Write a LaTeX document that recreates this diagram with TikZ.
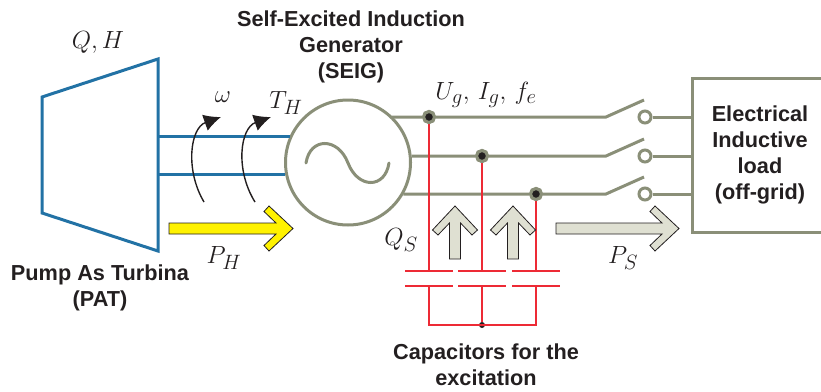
\documentclass[tikz,border=0pt]{standalone}
\usepackage{fontspec}
\setmainfont{Liberation Sans}
\usepackage{tikz}
\usetikzlibrary{arrows.meta, positioning, calc}
\definecolor{patblue}{HTML}{2272A5}
\definecolor{machine}{HTML}{8A8F78}
\definecolor{excite}{HTML}{ED2A35}
\definecolor{ink}{HTML}{231F20}
\definecolor{powerfill}{HTML}{DFE0D2}
\definecolor{hydrofill}{HTML}{FFF200}
\tikzset{
  title/.style    = {font=\fontsize{21.7}{26}\selectfont\bfseries, text=ink, align=center},
  qty/.style      = {font=\fontsize{24.88}{28}\selectfont, text=ink, inner sep=0pt},
  wire/.style     = {draw=machine, line width=3pt},
  shaft/.style    = {draw=patblue, line width=3pt},
  capwire/.style  = {draw=excite, line width=1.8pt},
  torque/.style   = {-{Latex[length=17pt, width=17pt]}, draw=ink, line width=1.4pt},
  busdot/.style   = {circle, draw=machine, fill=ink, line width=3pt, minimum size=11pt, inner sep=0pt},
  contact/.style  = {circle, draw=machine, fill=white, line width=3pt, minimum size=12pt, inner sep=0pt},
  fatpower/.style = {draw=ink, fill=powerfill, line width=0.8pt, line join=miter},
  fathydro/.style = {draw=ink, fill=hydrofill, line width=0.8pt, line join=miter},
  pics/fatarrow/.style = {code={
    \path[pic actions] (0,-5.5) -- (#1-17,-5.5) -- (#1-29,-17) -- (#1-24,-22.5) -- (#1,0)
      -- (#1-24,22.5) -- (#1-29,17) -- (#1-17,5.5) -- (0,5.5) -- cycle;
  }},
}
\begin{document}
\begin{tikzpicture}[x=1pt, y=-1pt]
  \useasboundingbox (0,0) rectangle (821,391);

  % turbine
  \draw[shaft, line join=miter] (42,97) -- (158,59) -- (158,251) -- (42,213) -- cycle;
  \coordinate (shafttop) at (158,136);
  \coordinate (shaftbot) at (158,174);

  % generator and load
  \node[circle, wire, minimum size=125pt, inner sep=0pt] (seig) at (348,162.5) {};
  \draw[wire, line cap=round] (306,163) .. controls (310,137) and (338,137) .. (348,163)
    .. controls (358,189) and (385,189) .. (389,163);
  \draw[wire] (821,78) -- (692,78) -- (692,232) -- (821,232);
  \coordinate (load) at (692,155);
  \draw[shaft] (shafttop) -- (shafttop -| seig.155);
  \draw[shaft] (shaftbot) -- (shaftbot -| seig.190);

  % three phases
  \node[busdot] (dota) at (429,117) {};
  \node[busdot] (dotb) at (482,156) {};
  \node[busdot] (dotc) at (536,194) {};
  \foreach \ph/\yy/\ang in {a/117/47, b/156/6, c/194/-30} {
    \coordinate (pivot\ph) at (606,\yy);
    \node[contact] (term\ph) at (645,\yy) {};
    \draw[wire] (seig.\ang |- dot\ph) -- (dot\ph) -- (pivot\ph) -- ++(38,-17);
    \draw[wire] (term\ph) -- (term\ph -| load);
  }

  % capacitor bank
  \foreach \ph/\xx in {a/429, b/482, c/536} {
    \coordinate (capup\ph) at (\xx,271);
    \coordinate (capdn\ph) at (\xx,286);
    \draw[capwire] (dot\ph) -- (capup\ph);
    \draw[capwire] ($(capup\ph)+(-24,0)$) -- ++(48,0);
    \draw[capwire] ($(capdn\ph)+(-24,0)$) -- ++(48,0);
  }
  \node[circle, fill=ink, minimum size=6pt, inner sep=0pt] (star) at (482,325) {};
  \draw[capwire] (capdna) -- (capdna |- star) -- (capdnc |- star) -- (capdnc);
  \draw[capwire] (capdnb) -- (star);
  \node[busdot] at (dota) {};
  \node[busdot] at (dotb) {};
  \node[busdot] at (dotc) {};

  % power arrows
  \pic[fathydro] at (169,228.5) {fatarrow=124};
  \pic[fatpower] at (556,228.5) {fatarrow=123};
  \pic[fatpower, rotate=90] at (455,259) {fatarrow=53};
  \pic[fatpower, rotate=90] at (513,259) {fatarrow=53};

  % torque and speed
  \coordinate (wstart) at (204,202);
  \coordinate (wend) at (221,117);
  \coordinate (tstart) at (255,202);
  \coordinate (tend) at (271,117);
  \draw[torque] (wstart) .. controls (185,170) and (190,128) .. (wend);
  \draw[torque] (tstart) .. controls (235,170) and (240,128) .. (tend);

  % labels
  \node[qty] (lblqh) at (98,42) {$Q,H$};
  \node[qty] (lblw) at (223,97) {$\omega$};
  \node[qty] (lblth) at (286,103) {$T_H$};
  \node[qty] (lblph) at (224,258) {$P_H$};
  \node[qty] (lblqs) at (401,240) {$Q_S$};
  \node[qty] (lblps) at (623,258) {$P_S$};
  \node[qty] (lblug) at (486,95) {$U_g,\,I_g,\,f_e$};
  \node[title] (seigname) at (351,47) {Self-Excited Induction\\Generator\\(SEIG)};
  \node[title] (patname) at (100,288) {Pump As Turbina\\(PAT)};
  \node[title] (capname) at (486,365) {Capacitors for the\\excitation};
  \node[title] (loadname) at (760,155) {Electrical\\Inductive\\load\\(off-grid)};
\end{tikzpicture}
\end{document}
